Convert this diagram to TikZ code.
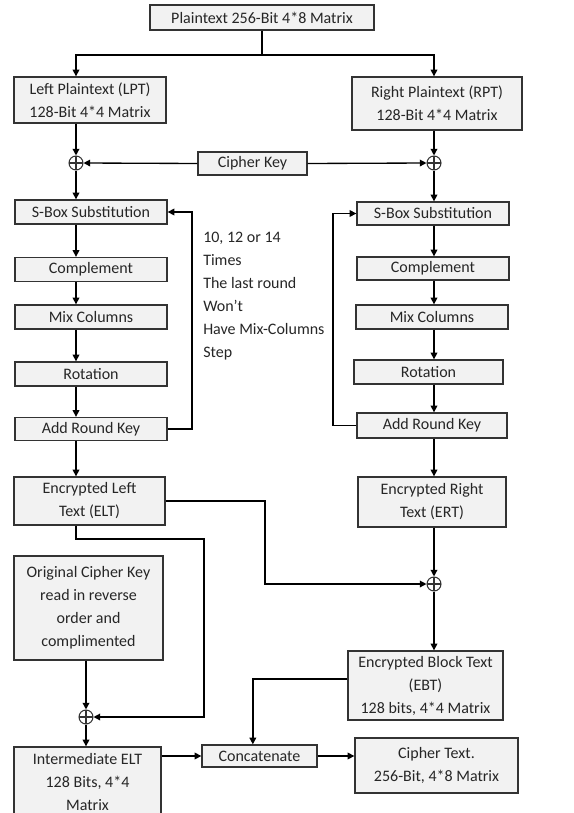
\documentclass[tikz,border=0pt]{standalone}
\usepackage{fontspec}
\setmainfont{Carlito}
\usetikzlibrary{arrows.meta}
\definecolor{boxfill}{HTML}{F2F2F2}
\definecolor{boxline}{HTML}{333333}
\definecolor{ink}{HTML}{262626}
\begin{document}
\begin{tikzpicture}[x=0.75pt,y=-0.75pt,
  box/.style={draw=boxline,fill=boxfill,line width=1pt,align=center,inner sep=0pt,
    text=ink,font=\fontsize{12}{17.25}\selectfont},
  sz/.style 2 args={minimum width=#1*0.75pt,minimum height=#2*0.75pt},
  xor/.style={draw=boxline,circle,line width=0.8pt,minimum size=10.5pt,inner sep=0pt,
    path picture={\draw[line width=0.8pt] (path picture bounding box.north) -- (path picture bounding box.south)
      (path picture bounding box.west) -- (path picture bounding box.east);}},
  arr/.style={-{Triangle[length=5pt,width=5pt]},line width=1pt}]
  \clip (0,0) rectangle (574,813);
  \coordinate (lx) at (76,0);
  \coordinate (rx) at (434,0);
  % split of the plaintext
  \node[box,sz={224}{25}] (plain) at (262,17.5) {Plaintext 256-Bit 4*8 Matrix};
  \node[box,sz={152}{46}] (lpt) at (90,100) {Left Plaintext (LPT)\\128-Bit 4*4 Matrix};
  \node[box,sz={170}{53}] (rpt) at (437,103.5) {Right Plaintext (RPT)\\128-Bit 4*4 Matrix};
  \coordinate (split) at (262,55);
  \draw[line width=1pt] (plain.south) -- (split);
  \draw[arr] (split) -| (lpt.north -| lx);
  \draw[arr] (split) -| (rpt.north -| rx);
  % cipher key
  \node[xor] (xl) at (76,163) {};
  \node[xor] (xr) at (434,163) {};
  \node[box,sz={109}{23}] (key) at (252.5,163.5) {Cipher Key};
  \draw[arr] (lpt.south -| lx) -- (xl.north);
  \draw[arr] (rpt.south -| rx) -- (xr.north);
  \draw[arr] (key.west) -- (xl.east);
  \draw[arr] (key.east) -- (xr.west);
  % left rounds
  \node[box,sz={152}{24}] (sbl) at (91,212) {S-Box Substitution};
  \node[box,sz={152}{24}] (cml) at (91,269.5) {Complement};
  \node[box,sz={152}{24}] (mcl) at (91,317) {Mix Columns};
  \node[box,sz={152}{24}] (rtl) at (91,374) {Rotation};
  \node[box,sz={152}{23}] (akl) at (91,429) {Add Round Key};
  \draw[arr] (xl.south) -- (sbl.north -| lx);
  \draw[arr] (sbl.south -| lx) -- (cml.north -| lx);
  \draw[arr] (cml.south -| lx) -- (mcl.north -| lx);
  \draw[arr] (mcl.south -| lx) -- (rtl.north -| lx);
  \draw[arr] (rtl.south -| lx) -- (akl.north -| lx);
  \coordinate (loopl) at (192,0);
  \draw[arr] (akl.east) -| (loopl |- sbl.east) -- (sbl.east);
  \node[anchor=west,align=left,inner sep=0pt,text=ink,font=\fontsize{12}{17.25}\selectfont] (note) at (203,296)
    {10, 12 or 14\\Times\\The last round\\Won’t\\Have Mix-Columns\\Step};
  % right rounds
  \node[box,sz={152}{23}] (sbr) at (433,213.5) {S-Box Substitution};
  \node[box,sz={152}{23}] (cmr) at (433,268.5) {Complement};
  \node[box,sz={152}{24}] (mcr) at (432,317) {Mix Columns};
  \node[box,sz={149}{24}] (rtr) at (428.5,372) {Rotation};
  \node[box,sz={150}{25}] (akr) at (432,425.5) {Add Round Key};
  \draw[arr] (xr.south) -- (sbr.north -| rx);
  \draw[arr] (sbr.south -| rx) -- (cmr.north -| rx);
  \draw[arr] (cmr.south -| rx) -- (mcr.north -| rx);
  \draw[arr] (mcr.south -| rx) -- (rtr.north -| rx);
  \draw[arr] (rtr.south -| rx) -- (akr.north -| rx);
  \coordinate (loopr) at (333,0);
  \draw[arr] (akr.west) -| (loopr |- sbr.west) -- (sbr.west);
  % encrypted halves
  \node[box,sz={151}{48}] (elt) at (89.5,501) {Encrypted Left\\Text (ELT)};
  \node[box,sz={148}{50}] (ert) at (432,502) {Encrypted Right\\Text (ERT)};
  \draw[arr] (akl.south -| lx) -- (elt.north -| lx);
  \draw[arr] (akr.south -| rx) -- (ert.north -| rx);
  \node[xor] (xm) at (434,584) {};
  \draw[arr] (ert.south -| rx) -- (xm.north);
  \coordinate (ej) at (265,0);
  \draw[arr] (elt.east) -| (ej |- xm) -- (xm.west);
  % reversed key
  \node[box,sz={149}{104}] (ock) at (88.5,608) {Original Cipher Key\\read in reverse\\order and\\complimented};
  \node[xor] (xb) at (86,717) {};
  \coordinate (ek) at (204,539);
  \draw[arr] (elt.south -| lx) |- (ek) |- (xb.east);
  \draw[arr] (ock.south -| xb) -- (xb.north);
  \node[box,sz={147}{69}] (iel) at (87.5,781.5) {Intermediate ELT\\128 Bits, 4*4\\Matrix};
  \draw[arr] (xb.south) -- (iel.north -| xb);
  % output
  \node[box,sz={155}{69}] (ebt) at (425.5,685.5) {Encrypted Block Text\\(EBT)\\128 bits, 4*4 Matrix};
  \draw[arr] (xm.south) -- (ebt.north -| xm);
  \node[box,sz={115}{22}] (cat) at (259.5,756) {Concatenate};
  \node[box,sz={163}{55}] (ctx) at (436.5,765.5) {Cipher Text.\\256-Bit, 4*8 Matrix};
  \draw[arr] ([yshift=5pt]ebt.west) -| ([xshift=-5pt]cat.north);
  \draw[arr] (iel.east |- cat.west) -- (cat.west);
  \draw[arr] (cat.east) -- (cat.east -| ctx.west);
\end{tikzpicture}
\end{document}
